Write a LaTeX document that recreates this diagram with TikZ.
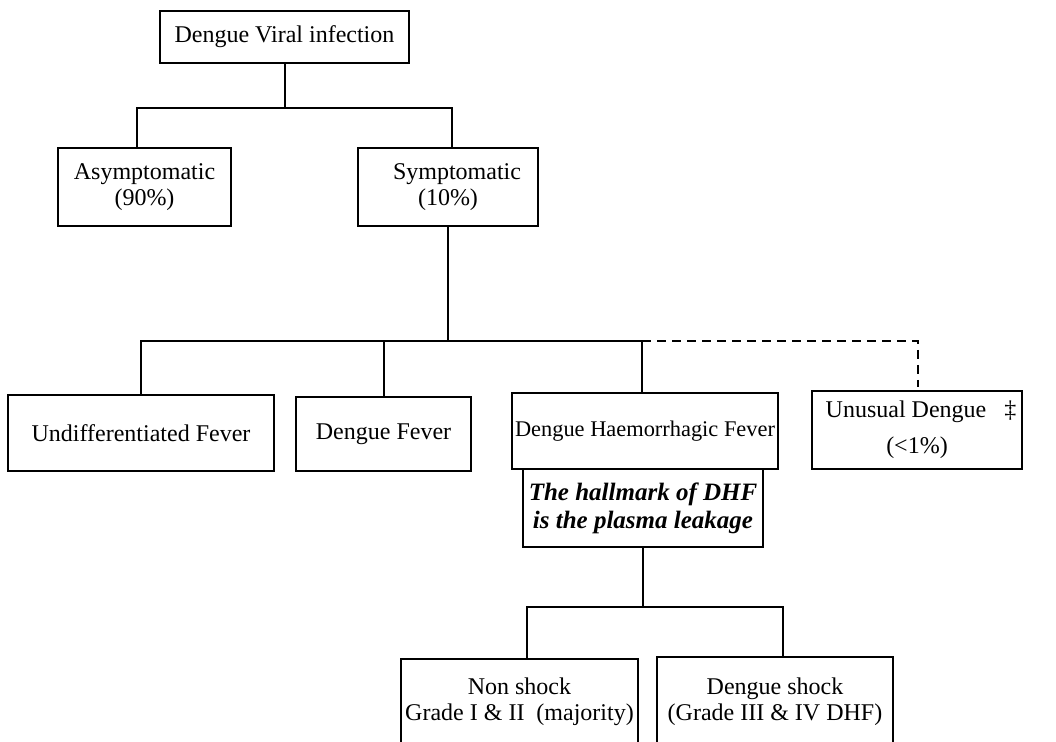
\documentclass[tikz,border=0pt]{standalone}
\usepackage{fontspec}
\setmainfont{Liberation Serif}
\usetikzlibrary{positioning}

\begin{document}
\begin{tikzpicture}[x=0.5pt,y=-0.5pt,
  box/.style={draw,line width=1pt,align=center,inner sep=0pt,font=\fontsize{12}{12.8}\selectfont},
  link/.style={line width=1pt}]
\useasboundingbox (0,0) rectangle (1056,742);
\clip (0,0) rectangle (1056,742);

\node[box,minimum width=124.5pt,minimum height=26pt] (viral) at (284.5,37) {Dengue Viral infection};
\node[box,minimum width=86.5pt,minimum height=39pt] (asym) at (144.5,187) {Asymptomatic\\(90\%)};
\node[box,minimum width=90pt,minimum height=39pt] (sym) at (448,187) {\hspace*{9pt}Symptomatic\\(10\%)};

\node[box,minimum width=133pt,minimum height=38pt] (undiff) at (141,433) {Undifferentiated Fever};
\node[box,minimum width=87.5pt,minimum height=37pt] (df) at (383.5,434) {Dengue Fever};
\node[box,minimum width=133pt,minimum height=38pt,font=\fontsize{11.2}{12}\selectfont] (dhf) at (645,431) {Dengue Haemorrhagic Fever};
\node[box,minimum width=105pt,minimum height=39pt] (unusual) at (917,430) {\hspace*{4pt}Unusual Dengue \ \ \ddag\\[5pt](<1\%)};
\node[box,minimum width=120pt,minimum height=39pt,font=\fontsize{12.5}{14}\selectfont\bfseries\itshape] (hallmark) at (643,508) {The hallmark of DHF\\is the plasma leakage};

\node[box,anchor=north,minimum width=118.5pt,inner ysep=9.5pt,text depth=45pt] (nonshock) at (519.5,658) {Non shock\\Grade I \& II \ (majority)};
\node[box,anchor=north,minimum width=118pt,inner ysep=10.5pt,text depth=45pt] (shock) at (775,656) {Dengue shock\\(Grade III \& IV DHF)};

% branching points
\coordinate (split1) at (286,108);
\coordinate (split2) at (449,341);
\coordinate (split3) at (643,607);

\draw[link] (viral.south) -- (viral.south |- split1);
\draw[link] ([xshift=-3.75pt]asym.north) -- ([xshift=-3.75pt]asym.north |- split1) -- ([xshift=2pt]sym.north |- split1) -- ([xshift=2pt]sym.north);

\draw[link] (sym.south) -- (sym.south |- split2);
\draw[link] (undiff.north) -- (undiff.north |- split2) -- ([xshift=-1.5pt]dhf.north |- split2) -- ([xshift=-1.5pt]dhf.north);
\draw[link] (df.north) -- (df.north |- split2);
\draw[link,dash pattern=on 4.5pt off 3pt] ([xshift=-1.5pt]dhf.north |- split2) -- ([xshift=0.5pt]unusual.north |- split2) -- ([xshift=0.5pt,yshift=1.5pt]unusual.north);

\draw[link] (hallmark.south) -- (hallmark.south |- split3);
\draw[link] ([xshift=3.75pt]nonshock.north) -- ([xshift=3.75pt]nonshock.north |- split3) -- ([xshift=4pt]shock.north |- split3) -- ([xshift=4pt]shock.north);
\end{tikzpicture}
\end{document}
